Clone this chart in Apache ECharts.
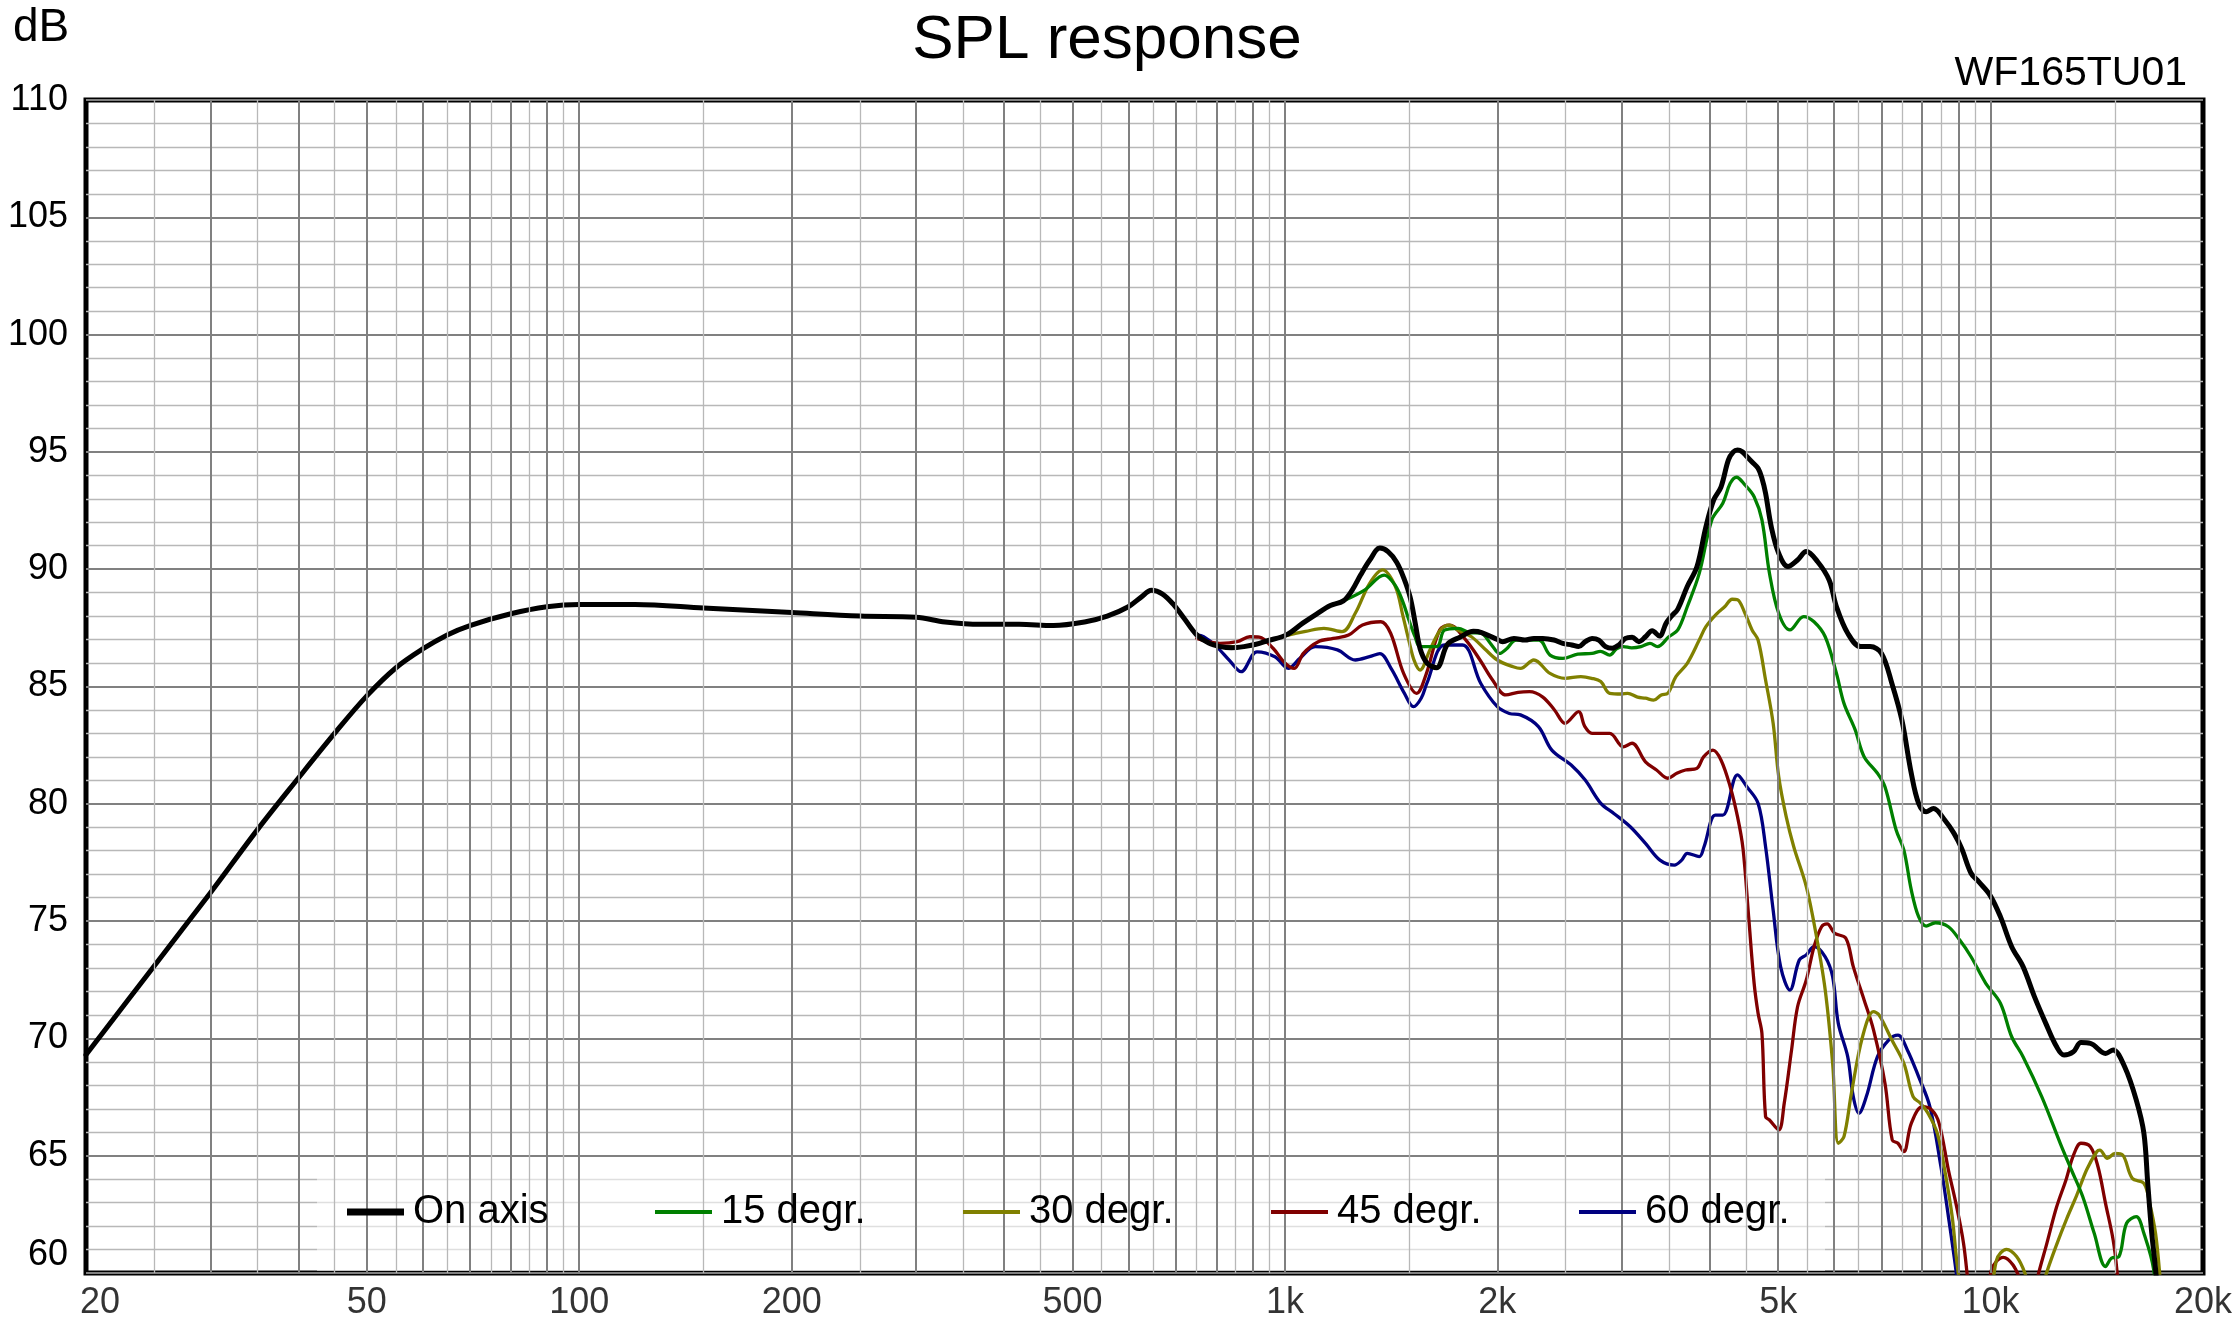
<!DOCTYPE html>
<html><head><meta charset="utf-8">
<script src="https://cdn.jsdelivr.net/npm/echarts@6/dist/echarts.min.js"></script>
<style>html,body{margin:0;padding:0;background:#fff}#c{width:2235px;height:1334px}</style>
</head><body><div id="c"></div>
<script>
const FONT = '"Liberation Sans", Arial, Helvetica, sans-serif';

const xTickValues = [20, 50, 100, 200, 500, 1000, 2000, 5000, 10000, 20000];
const xTickLabels = ['20', '50', '100', '200', '500', '1k', '2k', '5k', '10k', '20k'];
const seriesNames = ['On axis', '15 degr.', '30 degr.', '45 degr.', '60 degr.'];
const seriesColors = ['#000000', '#008000', '#808000', '#800000', '#000080'];

const onAxisFreq = [20,25,30,35,40,45,50,55,60,65,70,80,90,100,120,150,200,250,300,330,370,420,470,520,560,600,625,647,670,695,720,750,780,810,840,875,910,945,1005,1060,1110,1160,1210,1245,1280,1320,1363,1400,1440,1475,1505,1530,1555,1590,1640,1700,1770,1850,1900,2000,2035,2111,2189,2253,2320,2406,2476,2550,2607,2665,2724,2785,2847,2910,2973,3038,3105,3174,3243,3315,3394,3470,3530,3604,3717,3836,3950,4051,4149,4251,4320,4379,4450,4514,4600,4683,4740,4799,4889,5009,5163,5327,5481,5688,5905,6048,6274,6542,6753,7006,7247,7487,7720,7907,8103,8301,8610,8875,9099,9383,9619,9979,10326,10713,11118,11538,11974,12401,12709,13102,13429,13850,14551,14918,15488,16088,16491,16701,16920,17150,17500];
const onAxisDb = [69.3,73.1,76.2,78.9,81.1,83.0,84.6,85.8,86.6,87.2,87.6,88.1,88.4,88.5,88.5,88.35,88.15,88.0,87.95,87.75,87.65,87.65,87.6,87.75,88.0,88.4,88.8,89.1,88.95,88.5,87.9,87.2,86.85,86.7,86.65,86.7,86.8,86.95,87.2,87.7,88.1,88.45,88.65,89.1,89.75,90.4,90.9,90.75,90.3,89.6,88.8,87.7,86.6,86.0,85.8,86.8,87.1,87.35,87.3,87.0,86.91,87.05,86.98,87.05,87.05,86.98,86.84,86.77,86.7,86.91,87.05,86.98,86.7,86.63,86.77,87.05,87.1,86.91,87.12,87.38,87.15,87.7,88.0,88.3,89.26,90.1,91.8,92.95,93.5,94.66,95.0,95.08,95.0,94.8,94.55,94.3,93.9,93.24,91.81,90.68,90.11,90.39,90.75,90.32,89.54,88.4,87.27,86.7,86.7,86.41,85.13,83.57,81.3,80.02,79.66,79.8,79.31,78.74,78.1,77.04,76.68,76.11,75.19,73.91,73.06,71.78,70.64,69.65,69.29,69.43,69.82,69.79,69.36,69.51,68.79,67.37,65.96,63.82,61.69,60.0,56.0];

const deg15Freq = [750,780,810,840,875,910,945,1005,1060,1110,1160,1210,1295,1383,1434,1470,1500,1530,1554,1641,1683,1760,1825,1895,1960,2014,2060,2127,2290,2375,2478,2600,2724,2800,2886,2950,3016,3100,3196,3291,3373,3500,3604,3717,3865,4027,4174,4276,4365,4487,4623,4742,4861,5009,5196,5434,5621,5830,6048,6198,6429,6619,6914,7085,7348,7535,7720,7907,8103,8354,8715,9043,9383,9844,10326,10713,11118,11816,12553,13020,13510,14024,14551,14830,15200,15585,16088,16491,17030,17400];
const deg15Db = [87.2,86.85,86.7,86.65,86.7,86.8,86.95,87.2,87.7,88.1,88.45,88.65,89.1,89.75,89.3,88.6,87.8,87.1,86.7,86.7,87.4,87.48,87.3,87.27,86.8,86.41,86.6,86.98,86.98,86.34,86.2,86.38,86.41,86.5,86.34,86.6,86.7,86.65,86.7,86.84,86.7,87.12,87.41,88.4,89.82,92.1,92.81,93.66,93.92,93.59,93.09,92.1,89.82,88.12,87.41,87.98,87.76,87.12,85.56,84.28,83.15,82.01,81.3,80.73,78.88,78.03,76.33,75.19,74.79,74.93,74.76,74.19,73.48,72.35,71.5,70.07,69.22,67.52,65.53,64.39,63.25,61.69,60.27,60.63,60.7,62.12,62.4,61.69,60.13,57.0];

const deg30Freq = [750,810,875,945,1011,1070,1136,1205,1258,1318,1375,1434,1470,1498,1525,1554,1605,1660,1709,1760,1838,1920,2000,2106,2157,2253,2375,2495,2627,2720,2803,2886,3000,3060,3160,3243,3330,3415,3488,3582,3717,3865,3950,4098,4199,4304,4379,4487,4592,4683,4799,4919,5009,5133,5261,5481,5655,5830,5973,6084,6198,6350,6585,6825,6949,7247,7535,7766,7957,8153,8404,8610,8823,8987,9300,9800,10196,10536,10886,11185,11600,12003,12401,12814,13240,13683,14140,14283,14640,15012,15390,15875,16491,16807,17130,17350,17700];
const deg30Db = [87.2,86.7,86.7,86.95,87.19,87.35,87.48,87.34,88.12,89.39,89.97,89.26,88.0,86.98,86.1,85.7,86.56,87.4,87.62,87.4,87.12,86.6,86.13,85.84,85.77,86.13,85.56,85.35,85.42,85.35,85.21,84.71,84.68,84.71,84.55,84.5,84.42,84.64,84.71,85.42,85.99,86.98,87.55,88.12,88.4,88.72,88.7,88.12,87.41,86.98,85.28,83.43,81.16,79.45,78.17,76.47,74.48,72.06,68.94,65.53,65.81,67.66,70.07,71.14,71.0,69.93,68.94,67.52,67.23,66.81,65.96,64.39,62.4,60.13,57.5,57.5,60.55,61.01,60.7,60.0,58.5,60.0,61.2,62.3,63.3,64.4,65.17,65.24,64.89,65.1,65.03,64.04,63.82,62.97,61.69,60.1,57.0];

const deg45Freq = [750,809,856,892,920,962,1000,1031,1062,1115,1171,1231,1288,1368,1412,1473,1537,1587,1657,1711,1805,1890,1969,2056,2140,2221,2320,2410,2495,2607,2660,2724,2886,3016,3104,3243,3362,3488,3592,3696,3836,3920,4041,4149,4276,4379,4458,4541,4623,4683,4742,4799,4861,5009,5100,5224,5327,5481,5621,5761,5868,6011,6236,6389,6619,6825,7085,7255,7392,7535,7720,8005,8252,8454,8715,8931,9155,9350,9650,10029,10421,10761,11050,11400,11700,12000,12400,12800,13100,13430,13850,14198,14551,14918,15100,15400];
const deg45Db = [87.05,86.84,86.91,87.12,87.1,86.63,86.0,85.77,86.41,86.91,87.05,87.19,87.62,87.76,87.27,85.56,84.71,85.56,87.41,87.62,86.98,86.13,85.28,84.64,84.75,84.78,84.55,84.0,83.43,83.93,83.3,83.0,83.0,82.43,82.58,81.79,81.44,81.09,81.3,81.44,81.51,82.0,82.29,81.87,80.73,79.45,78.1,75.19,72.35,71.07,70.22,66.66,66.52,66.1,67.23,69.51,71.35,72.49,73.91,74.76,74.88,74.48,74.27,73.06,71.64,70.36,68.09,65.67,65.53,65.17,66.38,67.09,66.95,66.38,64.39,62.97,61.27,59.0,57.0,60.13,60.67,60.34,59.6,58.5,60.0,61.2,62.8,64.0,65.0,65.53,65.38,64.53,62.97,61.41,60.13,57.0];

const deg60Freq = [750,767,800,835,867,913,968,1011,1050,1104,1187,1258,1318,1363,1414,1477,1521,1560,1589,1683,1785,1895,2000,2080,2157,2287,2389,2545,2664,2803,2925,3086,3243,3400,3563,3650,3717,3865,3926,4073,4174,4379,4514,4683,4799,4919,5040,5196,5357,5481,5621,5830,5973,6084,6274,6389,6508,6667,6914,7171,7392,7622,7907,8203,8505,8715,8931,9200];
const deg60Db = [87.2,87.12,86.7,86.1,85.63,86.48,86.27,85.77,86.2,86.7,86.56,86.13,86.27,86.4,85.77,84.71,84.14,84.5,85.13,86.77,86.77,85.13,84.14,83.85,83.79,83.29,82.29,81.65,81.01,80.02,79.59,79.02,78.31,77.6,77.39,77.6,77.89,77.75,78.17,79.52,79.52,81.23,80.73,80.02,78.17,75.47,73.06,72.06,73.34,73.56,73.91,73.48,72.63,70.64,69.22,67.52,66.81,67.52,69.22,69.93,70.14,69.51,68.37,67.09,64.53,62.4,60.13,57.0];

const curveFreqs = [onAxisFreq, deg15Freq, deg30Freq, deg45Freq, deg60Freq];
const curveDbs = [onAxisDb, deg15Db, deg30Db, deg45Db, deg60Db];
const curveWidths = [5, 3.3, 3.3, 3.3, 3.3];

// vertical grid lines: dark at n*10^k, light at (n+0.5)*10^k
const gridDark = [], gridLight = [];
[10, 100, 1000, 10000].forEach(d => {
  for (let n = 1; n <= 9; n++) {
    const a = n * d, b = (n + 0.5) * d;
    if (a > 20 && a < 20000) gridDark.push(a);
    if (b > 20 && b < 20000) gridLight.push(b);
  }
});

const chart = echarts.init(document.getElementById('c'), null, {renderer: 'canvas'});

const curveSeries = [];
for (let i = 4; i >= 0; i--) {
  curveSeries.push({
    type: 'line', name: seriesNames[i],
    data: curveFreqs[i].map((f, k) => [f, curveDbs[i][k]]),
    showSymbol: false, symbol: 'none',
    smooth: 0.35,
    lineStyle: {color: seriesColors[i], width: curveWidths[i], join: 'round', cap: 'round'},
    itemStyle: {color: seriesColors[i]},
    silent: true, clip: true, animation: false, z: 3
  });
}

const legendStep = 308;
const legends = seriesNames.map((n, i) => ({
  left: 347 + legendStep * i, top: 1192, padding: 0,
  orient: 'horizontal', itemWidth: 57, itemHeight: 7, itemGap: 0,
  symbolKeepAspect: true, selectedMode: false, z: 6,
  textStyle: {fontSize: 40, color: '#000', fontFamily: FONT, padding: [0, 0, 0, 4]},
  data: [{name: n, icon: i === 0 ? 'path://M0,0H57V7H0Z' : 'path://M0,0H57V4H0Z'}]
}));

const option = {
  animation: false,
  backgroundColor: '#ffffff',
  title: [
    {text: 'SPL response', left: 1107, top: 10, textAlign: 'center', padding: 0,
     textStyle: {fontSize: 62, fontWeight: 'normal', color: '#000', fontFamily: FONT}},
    {text: 'dB', left: 13, top: 5, padding: 0,
     textStyle: {fontSize: 46, fontWeight: 'normal', color: '#000', fontFamily: FONT}},
    {text: 'WF165TU01', right: 48, top: 53, padding: 0,
     textStyle: {fontSize: 41, fontWeight: 'normal', color: '#000', fontFamily: FONT}}
  ],
  graphic: [{type: 'rect', z: 2, silent: true,
             shape: {x: 317, y: 1158, width: 1508, height: 113},
             style: {fill: 'rgba(255,255,255,0.55)'}}],
  grid: {left: 86, top: 100, width: 2117, height: 1173, show: true,
         borderColor: '#000', borderWidth: 5, backgroundColor: 'rgba(0,0,0,0)'},
  xAxis: {type: 'log', logBase: 10, min: 20, max: 20000,
          axisLine: {show: false}, axisTick: {show: false}, axisLabel: {show: false},
          splitLine: {show: false}, minorSplitLine: {show: false}},
  yAxis: {type: 'value', min: 60, max: 110, interval: 5,
          axisLine: {show: false}, axisTick: {show: false},
          axisLabel: {fontSize: 36, color: '#000', margin: 18, fontFamily: FONT,
                      verticalAlignMinLabel: 'bottom'},
          splitLine: {show: true, lineStyle: {color: '#808080', width: 2}},
          minorTick: {show: false, splitNumber: 5},
          minorSplitLine: {show: true, lineStyle: {color: '#b8b8b8', width: 1.3}}},
  legend: legends,
  series: [
    {type: 'line', name: 'grid', data: [[1000, 0]], showSymbol: false, symbol: 'none',
     lineStyle: {opacity: 0}, silent: true, z: 1, animation: false,
     markLine: {silent: true, symbol: ['none', 'none'], label: {show: false}, animation: false,
       data: gridLight.map(v => ({xAxis: v, lineStyle: {color: '#b8b8b8', width: 1.3, type: 'solid'}}))
         .concat(gridDark.map(v => ({xAxis: v, lineStyle: {color: '#808080', width: 2, type: 'solid'}})))}},
    ...curveSeries,
    {type: 'scatter', name: 'xticks',
     data: xTickValues.map((v, i) => i === 0 ? {value: [v, 60], label: {offset: [14, 0]}} : {value: [v, 60]}),
     symbolSize: 1, itemStyle: {color: 'rgba(0,0,0,0)'}, silent: true, clip: false, z: 5, animation: false,
     label: {show: true, position: 'bottom', distance: 12, fontSize: 36, color: '#000', fontFamily: FONT,
             formatter: p => xTickLabels[p.dataIndex]}}
  ]
};
chart.setOption(option);
</script>
</body></html>
